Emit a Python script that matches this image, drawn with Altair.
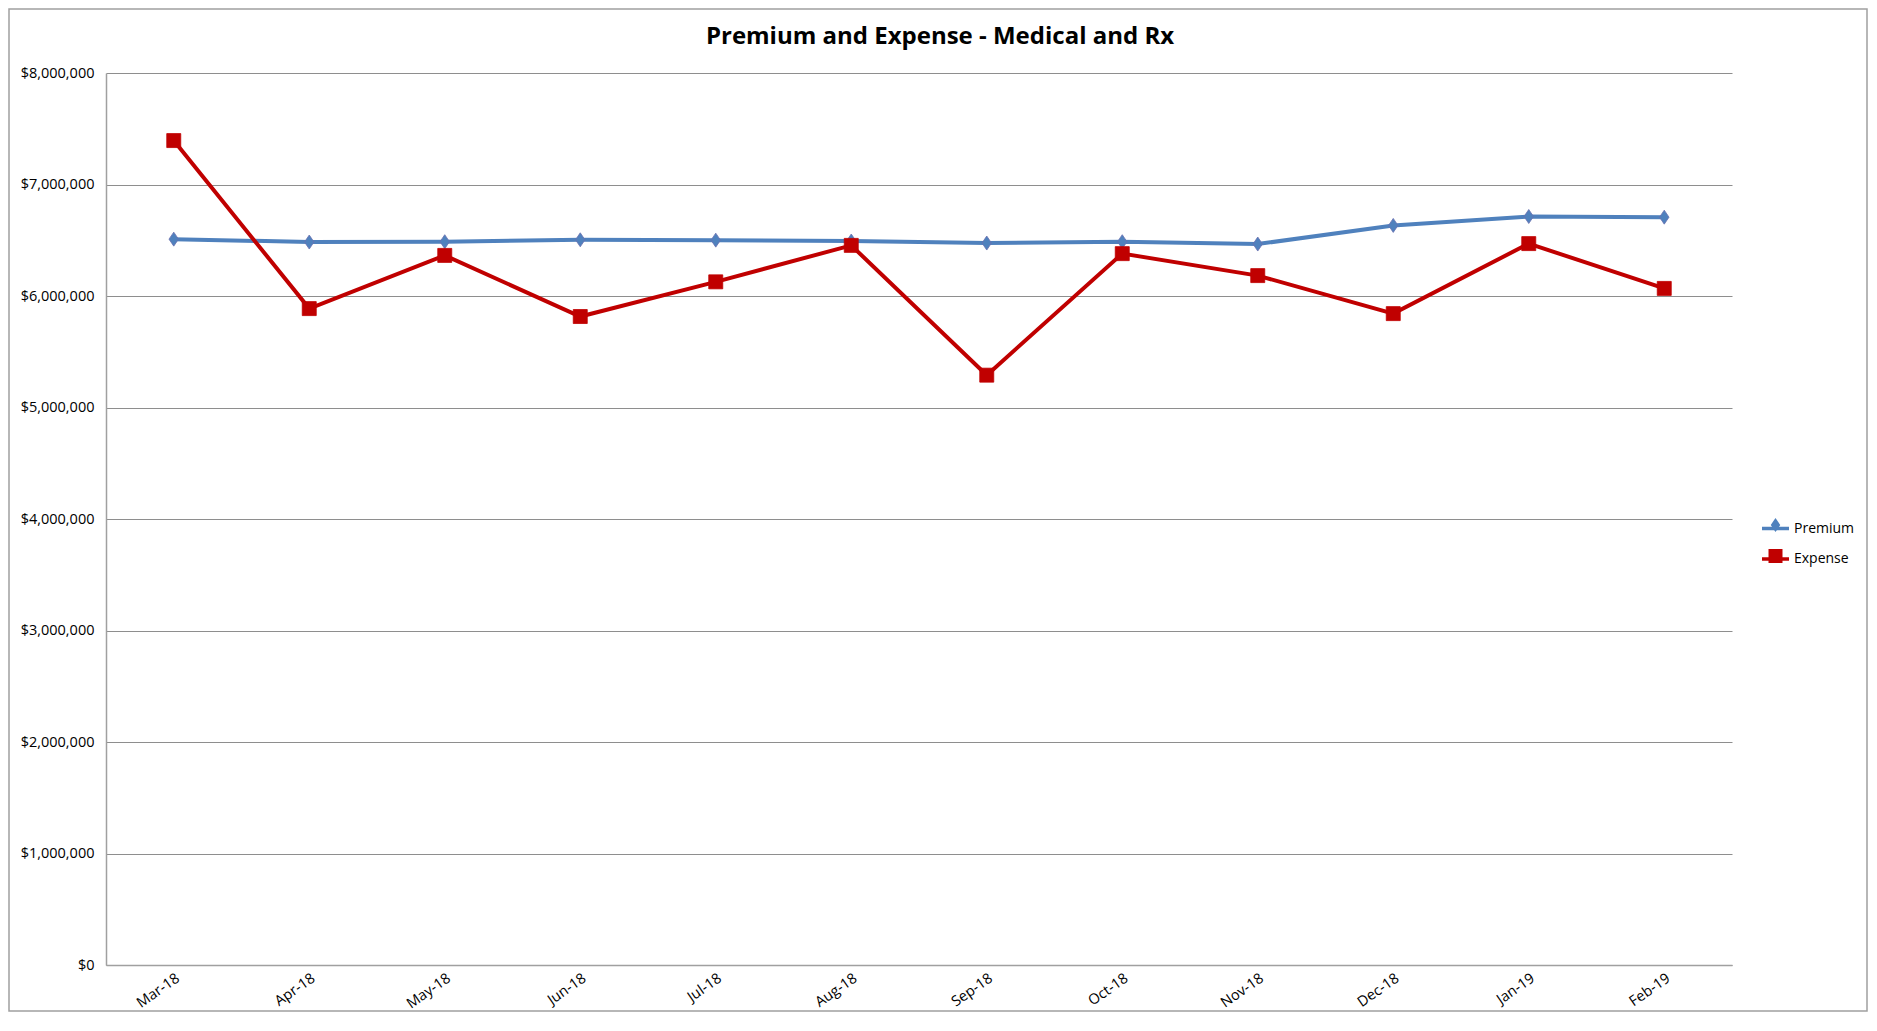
import altair as alt
import pandas as pd

months = ["Mar-18", "Apr-18", "May-18", "Jun-18", "Jul-18", "Aug-18",
          "Sep-18", "Oct-18", "Nov-18", "Dec-18", "Jan-19", "Feb-19"]
premium = [6510000, 6484000, 6487000, 6504000, 6501000, 6493000,
           6475000, 6487000, 6466000, 6633000, 6713000, 6707000]
expense = [7394000, 5887000, 6364000, 5816000, 6127000, 6454000,
           5290000, 6380000, 6183000, 5842000, 6470000, 6068000]
series_names = ["Premium", "Expense"]
series_colors = ["#4F81BD", "#C00000"]
y_ticks = [0, 1000000, 2000000, 3000000, 4000000, 5000000, 6000000, 7000000, 8000000]

rows = []
for m, p, e in zip(months, premium, expense):
    rows.append({"month": m, "series": "Premium", "series2": "Premium", "value": p})
    rows.append({"month": m, "series": "Expense", "series2": "Expense", "value": e})
df = pd.DataFrame(rows)

W, H = 1626, 892
FONT = "Open Sans"
GRAY = "#A0A0A0"
DIAMOND = "M0,-1L0.68,0L0,1L-0.68,0Z"

x_enc = alt.X(
    "month:N", sort=months,
    scale=alt.Scale(type="point", padding=0.5),
    axis=alt.Axis(title=None, labelAngle=325, ticks=False, grid=False,
                  domainColor=GRAY, domainWidth=1.5, labelFont=FONT, labelFontSize=14.5,
                  labelColor="#000", labelPadding=6),
)
y_enc = alt.Y(
    "value:Q",
    scale=alt.Scale(domain=[0, 8000000], nice=False),
    axis=alt.Axis(title=None, values=y_ticks, format="$,.0f", ticks=False, grid=True,
                  gridColor="#8E8E8E", gridWidth=1, domainColor=GRAY, domainWidth=1.5,
                  labelFont=FONT, labelFontSize=14.5, labelColor="#000", labelPadding=12),
)

base = alt.Chart(df)

frame = alt.Chart(pd.DataFrame({"k": [0]})).mark_rect(
    fillOpacity=0, stroke=GRAY, strokeWidth=1.5
).encode(
    x=alt.value(-97), x2=alt.value(W + 135),
    y=alt.value(-64), y2=alt.value(H + 46),
)

line = base.mark_line(strokeWidth=4).encode(
    x=x_enc, y=y_enc,
    stroke=alt.Stroke(
        "series:N", sort=series_names,
        scale=alt.Scale(range=series_colors),
        legend=alt.Legend(title=None, orient="none", legendX=1654, legendY=440,
                          symbolType="stroke", symbolSize=729, symbolStrokeWidth=3.5,
                          labelFont=FONT, labelFontSize=14, labelColor="#000",
                          labelOffset=3, rowPadding=7.5, padding=0),
    ),
)

pt_legend = alt.Legend(title=None, orient="none", legendX=1662.5, legendY=445,
                       symbolSize=196, symbolStrokeWidth=0, labelFont=FONT,
                       labelFontSize=14, labelExpr="''", labelOffset=3,
                       rowPadding=17, padding=0)

points = base.mark_point(filled=True, size=196, opacity=1, strokeWidth=0.8).encode(
    x=x_enc, y=y_enc,
    fill=alt.Fill("series2:N", scale=alt.Scale(domain=series_names, range=series_colors),
                  legend=pt_legend),
    shape=alt.Shape("series2:N", scale=alt.Scale(domain=series_names, range=[DIAMOND, "square"]),
                    legend=pt_legend),
    stroke=alt.condition("datum.series2 == 'Premium'", alt.value("#6A70B0"), alt.value("#C00000")),
)

chart = alt.layer(frame, line, points).properties(
    width=W, height=H,
    padding={"left": 98, "top": 65, "right": 136, "bottom": 48},
    autosize=alt.AutoSizeParams(type="none"),
    title=alt.TitleParams("Premium and Expense - Medical and Rx", font=FONT, fontSize=24,
                          fontWeight="bold", color="#000", anchor="middle", dx=21, offset=-41),
).configure(background="white").configure_view(stroke="transparent", strokeWidth=0)

chart.save("out.html", embed_options={"renderer": "svg", "actions": False})
